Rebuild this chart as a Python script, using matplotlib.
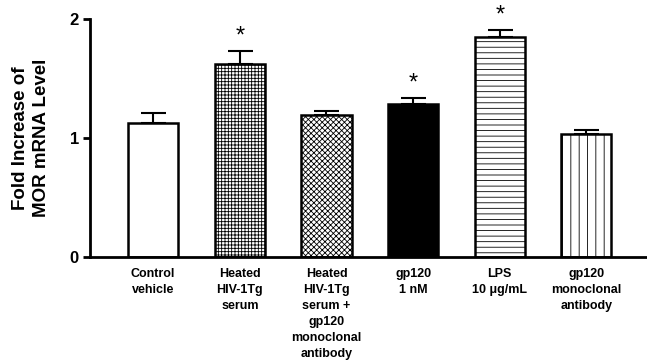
import matplotlib.pyplot as plt

plt.rcParams['font.family'] = ['Liberation Sans', 'DejaVu Sans']
plt.rcParams['hatch.linewidth'] = 0.6

# data
groups = ["Control\nvehicle", "Heated\nHIV-1Tg\nserum",
          "Heated\nHIV-1Tg\nserum +\ngp120\nmonoclonal\nantibody",
          "gp120\n1 nM", "LPS\n10 \u03bcg/mL", "gp120\nmonoclonal\nantibody"]
fold = [1.13, 1.62, 1.19, 1.29, 1.85, 1.03]
sem = [0.08, 0.11, 0.04, 0.05, 0.06, 0.04]
signif = [False, True, False, True, True, False]

colors = ['white', 'white', 'white', 'black', 'white', 'white']
hatches = [None, '+++++', 'xxxxxx', None, '---', '||']

fig = plt.figure(figsize=(6.47, 3.6), dpi=100)
ax = fig.add_axes([0.139, 0.286, 0.861, 0.661])

x = range(len(groups))
ax.bar(x, fold, width=0.58, color=colors, edgecolor='black', linewidth=1.8,
       hatch=hatches, zorder=2)
ax.errorbar(x, fold, yerr=[[0] * len(sem), sem], fmt='none', ecolor='black',
            elinewidth=1.5, capsize=9, capthick=1.5, zorder=1)

for i in x:
    if signif[i]:
        ax.text(i, fold[i] + sem[i] + 0.03, '*', ha='center', va='bottom',
                fontsize=17, clip_on=False)

ax.set_xlim(-0.73, 5.7)
ax.set_ylim(0, 2)
ax.set_yticks([0, 1, 2])
ax.set_yticklabels(['0', '1', '2'], fontsize=12, fontweight='bold')
ax.set_xticks(list(x))
ax.set_xticklabels(groups, fontsize=9, fontweight='bold', linespacing=1.45,
                   va='top')
ax.tick_params(axis='x', length=0, pad=8)
ax.tick_params(axis='y', length=5, width=2, pad=3)

ax.set_ylabel("Fold Increase of\nMOR mRNA Level", fontsize=13.5,
              fontweight='bold', linespacing=1.3)
ax.yaxis.set_label_coords(-0.072, 0.5)

ax.spines['top'].set_visible(False)
ax.spines['right'].set_visible(False)
ax.spines['left'].set_linewidth(2)
ax.spines['bottom'].set_linewidth(2)

fig.savefig('out.png', dpi=100)
